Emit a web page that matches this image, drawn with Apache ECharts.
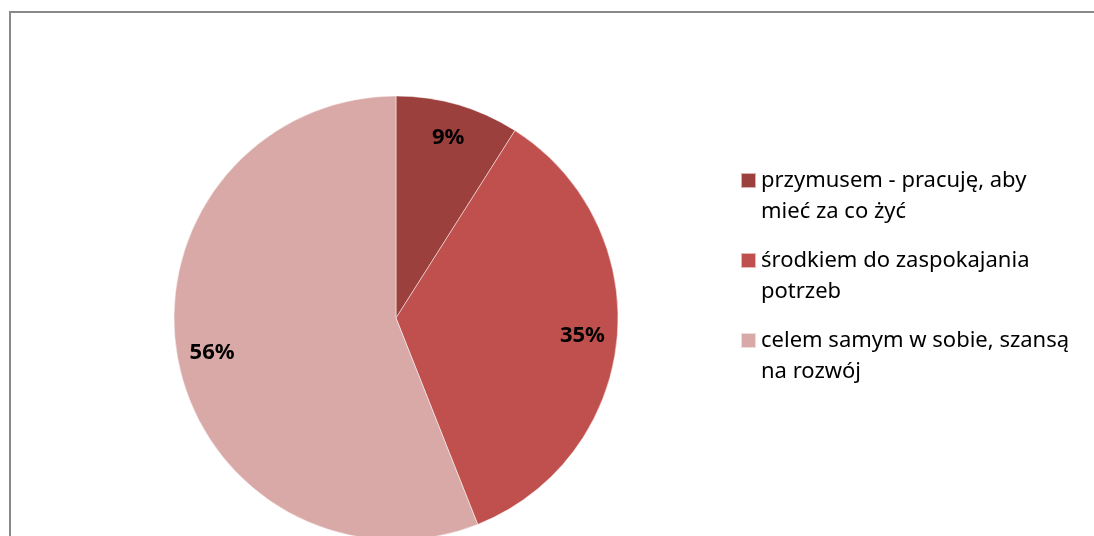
<!DOCTYPE html>
<html>
<head>
<meta charset="utf-8">
<script src="https://cdn.jsdelivr.net/npm/echarts@6/dist/echarts.min.js"></script>
<style>
  html, body { margin: 0; padding: 0; background: #fff; }
  #chart { width: 1094px; height: 536px; }
</style>
</head>
<body>
<div id="chart"></div>
<script>
// Answers: work is ...
const categories = [
  'przymusem - pracuję, aby mieć za co żyć',
  'środkiem do zaspokajania potrzeb',
  'celem samym w sobie, szansą na rozwój'
];
const shares = [9, 35, 56];
const sliceColors = ['#9C403E', '#C0504D', '#D9A9A8'];

const FONT = '"Noto Sans", "Open Sans", sans-serif';
const center = [396, 318];
const R = 222;

const pieData = categories.map((name, i) => ({
  name: name,
  value: shares[i],
  itemStyle: { color: sliceColors[i] }
}));

// one small legend per category so each wrapped entry keeps its own spacing;
// the leading empty line keeps the marker level with the first text line
const legends = categories.map((name, i) => ({
  data: [name],
  orient: 'vertical',
  left: 740,
  top: 134 + i * 80,
  padding: 0,
  selectedMode: false,
  icon: 'rect',
  itemWidth: 15,
  itemHeight: 15,
  formatter: n => '\n' + n,
  textStyle: {
    fontFamily: FONT,
    fontSize: 22,
    color: '#000',
    lineHeight: 31,
    width: 328,
    overflow: 'break'
  }
}));

const chart = echarts.init(document.getElementById('chart'), null, { renderer: 'canvas' });
chart.setOption({
  animation: false,
  backgroundColor: '#fff',
  graphic: [{
    type: 'rect',
    shape: { x: 10, y: 12, width: 1300, height: 1000 },
    style: { fill: 'none', stroke: '#898989', lineWidth: 2 },
    silent: true,
    z: 0
  }],
  legend: legends,
  series: [
    {
      type: 'pie',
      center: center,
      radius: [0, R],
      startAngle: 90,
      clockwise: true,
      silent: true,
      label: { show: false },
      labelLine: { show: false },
      itemStyle: { borderColor: 'rgba(255,255,255,0.6)', borderWidth: 0.8 },
      data: pieData
    },
    {
      // transparent ring that carries the percentage labels further out
      type: 'pie',
      center: center,
      radius: [R * 0.66, R],
      startAngle: 90,
      clockwise: true,
      silent: true,
      itemStyle: { color: 'rgba(0,0,0,0)' },
      label: {
        show: true,
        position: 'inside',
        formatter: p => p.value + '%',
        fontFamily: FONT,
        fontWeight: 'bold',
        fontSize: 22,
        color: '#000'
      },
      labelLine: { show: false },
      data: categories.map((name, i) => ({ name: name, value: shares[i] }))
    }
  ]
});
</script>
</body>
</html>
